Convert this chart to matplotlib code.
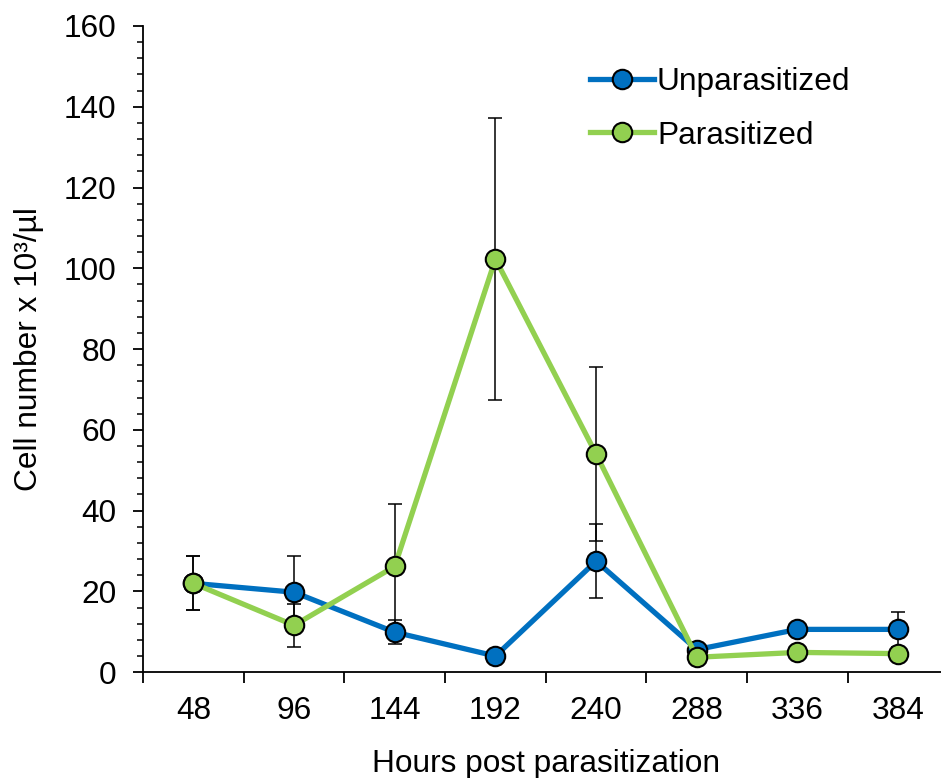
import numpy as np
import matplotlib.pyplot as plt
from matplotlib.ticker import MultipleLocator, FixedLocator

plt.rcParams['font.family'] = ['Liberation Sans', 'DejaVu Sans']

hours = ['48', '96', '144', '192', '240', '288', '336', '384']
unparasitized = [22.0, 19.8, 9.9, 4.0, 27.5, 5.6, 10.6, 10.6]
unparasitized_err = [6.7, 8.9, 3.0, 0.0, 9.1, 0.0, 0.0, 4.3]
parasitized = [22.0, 11.6, 26.2, 102.3, 54.0, 3.7, 4.9, 4.6]
parasitized_err = [6.7, 5.3, 15.4, 35.0, 21.6, 0.0, 0.0, 0.0]

blue = '#0070C0'
green = '#92D050'
fs = 22.8

fig = plt.figure(figsize=(9.41, 7.78), dpi=100)
ax = fig.add_axes([0.152, 0.136, 0.856, 0.8306])

x = np.arange(1, len(hours) + 1)

# error bars first so markers sit on top
ax.errorbar(x, unparasitized, yerr=unparasitized_err, fmt='none', ecolor='black',
            elinewidth=1.1, capsize=5, capthick=1.1, zorder=2)
ax.errorbar(x, parasitized, yerr=parasitized_err, fmt='none', ecolor='black',
            elinewidth=1.1, capsize=5, capthick=1.1, zorder=2)

ax.plot(x, unparasitized, color=blue, lw=3.8, marker='o', ms=14,
        mfc=blue, mec='black', mew=1.5, label='Unparasitized', zorder=3)
ax.plot(x, parasitized, color=green, lw=3.8, marker='o', ms=14,
        mfc=green, mec='black', mew=1.5, label='Parasitized', zorder=4)

ax.set_xlim(0.5, 8.5)
ax.set_ylim(0, 160)

ax.spines['top'].set_visible(False)
ax.spines['right'].set_visible(False)
for s in ['left', 'bottom']:
    ax.spines[s].set_linewidth(1.3)

ax.set_xticks(x)
ax.set_xticklabels(hours)
ax.xaxis.set_minor_locator(FixedLocator(np.arange(0.5, 9.0, 1.0)))
ax.tick_params(axis='x', which='major', length=0, labelsize=fs, pad=17)
ax.tick_params(axis='x', which='minor', length=8, width=1.3, direction='out')

ax.yaxis.set_major_locator(MultipleLocator(20))
ax.yaxis.set_minor_locator(MultipleLocator(4))
ax.tick_params(axis='y', which='major', length=7, width=1.3, labelsize=fs, pad=12)
ax.tick_params(axis='y', which='minor', length=4, width=1.1)

ax.set_xlabel('Hours post parasitization', fontsize=fs, labelpad=17)
ax.set_ylabel('Cell number x 10³/µl', fontsize=fs, labelpad=14)

ax.legend(loc='upper left', bbox_to_anchor=(0.52, 0.98), frameon=False,
          fontsize=fs, handlelength=2.0, handletextpad=0.1, labelspacing=0.73)

fig.savefig('out.png', dpi=100)
